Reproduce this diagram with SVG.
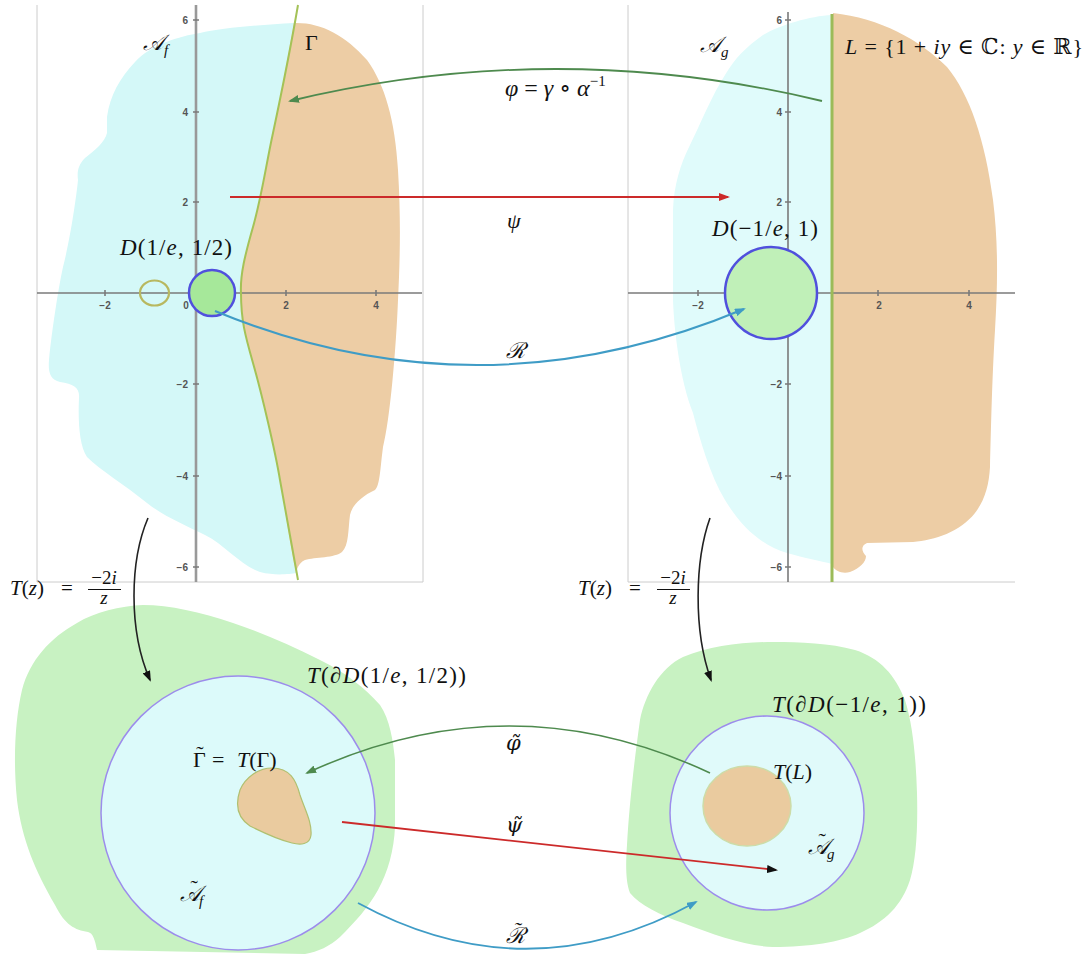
<svg xmlns="http://www.w3.org/2000/svg" width="1091" height="957" viewBox="0 0 1091 957">
<style>
.frame{stroke:#cccccc;stroke-width:1;fill:none}
.axis{stroke:#7a7a7a;stroke-width:1.6;fill:none}
.yaxisL{stroke:#999999;stroke-width:2.6;fill:none}
.tick{font-family:"Liberation Sans","DejaVu Sans",sans-serif;font-size:10px;font-weight:bold;fill:#555555}
.cyan{fill:#d4f8f8}
.cyan2{fill:#e0fbfb}
.orange{fill:#edcda5}
.m{font-family:"Liberation Serif","DejaVu Serif",serif;font-size:22px;fill:#111111}
.dv{font-family:"DejaVu Serif",serif;font-size:21px;fill:#111111}
.big{font-size:23px}
.i{font-style:italic}
.sub{font-size:15px}
.conn{fill:none}
</style>
<defs>
<marker id="ahG" markerUnits="userSpaceOnUse" markerWidth="11" markerHeight="8" refX="9" refY="4" orient="auto"><path d="M0,0 L11,4 L0,8 Z" fill="#4e8a4e"/></marker>
<marker id="ahR" markerUnits="userSpaceOnUse" markerWidth="11" markerHeight="8" refX="9" refY="4" orient="auto"><path d="M0,0 L11,4 L0,8 Z" fill="#cc2a2a"/></marker>
<marker id="ahB" markerUnits="userSpaceOnUse" markerWidth="11" markerHeight="8" refX="9" refY="4" orient="auto"><path d="M0,0 L11,4 L0,8 Z" fill="#3f9cc6"/></marker>
<marker id="ahK" markerUnits="userSpaceOnUse" markerWidth="11" markerHeight="8" refX="9" refY="4" orient="auto"><path d="M0,0 L11,4 L0,8 Z" fill="#111111"/></marker>
</defs>

<g id="panel-top-left">
<path class="cyan" d="M294,23 C260,25 220,28 200,33 C180,36 150,45 135,62 C120,78 110,95 107,117 L107,133 C105,142 95,150 85,158 C78,165 77,172 78,180 C76,200 70,240 63,267 C58,290 52,330 49,360 C48,372 50,380 60,382 C74,384 80,388 79,398 C78,420 79,445 87,457 C100,470 125,485 147,503 C165,517 185,525 205,535 C225,545 240,565 260,572 C275,576 290,574 296,573 C290,545 286,515 280,480 C275,450 262,395 253,363 C245,335 241,320 241,293 C240,275 245,255 253,227 C262,195 266,165 273,133 C280,100 290,45 294,23 Z"/>
<path class="orange" d="M294,23 C320,22 345,35 367,60 C385,85 395,120 398,170 C401,220 400,260 398,300 C396,350 390,420 383,447 C380,470 380,485 375,490 C362,496 352,505 350,515 C348,530 349,545 342,552 C335,558 315,557 305,560 C298,563 297,570 296,573 C290,545 286,515 280,480 C275,450 262,395 253,363 C245,335 241,320 241,293 C240,275 245,255 253,227 C262,195 266,165 273,133 C280,100 290,45 294,23 Z"/>
<path class="frame" d="M37,5 L37,582 L423,582 M423,5 L423,582"/>
<path class="axis" d="M37,293 L422,293"/>
<path class="yaxisL" d="M196,5 L196,582"/>
<path class="axis" d="M105,290 V296 M286,290 V296 M376,290 V296 M193,20 H199 M193,112 H199 M193,202 H199 M193,384 H199 M193,476 H199 M193,567 H199" stroke-width="1"/>
<g class="tick">
<text x="188" y="24" text-anchor="end">6</text>
<text x="188" y="116" text-anchor="end">4</text>
<text x="188" y="206" text-anchor="end">2</text>
<text x="188" y="388" text-anchor="end">−2</text>
<text x="188" y="480" text-anchor="end">−4</text>
<text x="188" y="571" text-anchor="end">−6</text>
<text x="105" y="309" text-anchor="middle">−2</text>
<text x="186" y="309" text-anchor="middle">0</text>
<text x="286" y="309" text-anchor="middle">2</text>
<text x="376" y="309" text-anchor="middle">4</text>
</g>
<path id="gamma" d="M298,5 C292,40 280,100 273,133 C266,165 262,195 253,227 C245,255 240,275 241,293 C241,320 245,335 253,363 C262,395 275,450 280,480 C286,515 292,545 298,580" fill="none" stroke="#a4c257" stroke-width="2"/>
<ellipse cx="154.5" cy="293" rx="14.5" ry="12.5" fill="none" stroke="#b8b860" stroke-width="2.2"/>
<circle cx="212" cy="293" r="23" fill="#a6e89a" stroke="#5050dd" stroke-width="2.5"/>
<text class="m" x="143" y="50"><tspan class="i">𝒜</tspan><tspan class="i sub" dy="5">f</tspan></text>
<text class="m" x="305" y="50">Γ</text>
<text class="m big" x="120" y="255" textLength="112"><tspan class="i">D</tspan>(1/<tspan class="i">e</tspan>, 1/2)</text>
</g>

<g id="panel-top-right">
<path class="cyan2" d="M832,15 C810,16 780,25 763,35 C745,48 735,58 725,75 C712,95 700,125 690,145 C680,165 674,185 673,210 L673,300 C674,330 680,380 693,413 C700,440 710,475 725,500 C740,525 760,545 787,553 C805,558 820,561 832,564 Z"/>
<path class="orange" d="M833,13 C880,18 920,40 947,67 C970,95 985,140 993,200 C998,240 998,280 995,330 C992,380 991,430 990,467 C989,485 985,500 975,513 C960,532 935,540 913,542 L867,543 C860,546 862,552 866,556 C866,562 860,568 850,572 C842,574 836,571 833,567 Z"/>
<path class="frame" d="M628,5 L628,582 L1015,582"/>
<path class="axis" d="M628,293 L1015,293"/>
<path class="axis" d="M788,12 L788,582" stroke-width="1.4"/>
<path class="axis" d="M698,290 V296 M878,290 V296 M969,290 V296 M785,20 H791 M785,112 H791 M785,202 H791 M785,384 H791 M785,476 H791 M785,567 H791" stroke-width="1"/>
<g class="tick">
<text x="782" y="24" text-anchor="end">6</text>
<text x="782" y="116" text-anchor="end">4</text>
<text x="782" y="206" text-anchor="end">2</text>
<text x="782" y="388" text-anchor="end">−2</text>
<text x="782" y="480" text-anchor="end">−4</text>
<text x="782" y="571" text-anchor="end">−6</text>
<text x="698" y="309" text-anchor="middle">−2</text>
<text x="778" y="309" text-anchor="middle">0</text>
<text x="879" y="309" text-anchor="middle">2</text>
<text x="969" y="309" text-anchor="middle">4</text>
</g>
<path d="M832,14 L832,582" stroke="#9bbb59" stroke-width="3"/>
<circle cx="771" cy="293" r="46" fill="#c0f0b8" stroke="#5050dd" stroke-width="2.5"/>
<text class="m" x="700" y="52"><tspan class="i">𝒜</tspan><tspan class="i sub" dy="5">g</tspan></text>
<text class="m" x="845" y="54" textLength="238"><tspan class="i">L</tspan> = {1 + <tspan class="i">iy</tspan> ∈ ℂ: <tspan class="i">y</tspan> ∈ ℝ}</text>
<text class="m big" x="712" y="236" textLength="106"><tspan class="i">D</tspan>(−1/<tspan class="i">e</tspan>, 1)</text>
</g>

<g id="panel-bottom-left">
<path fill="#c8f2c2" d="M77,623 C95,612 120,606 143,605 C170,605 200,612 233,623 C260,632 290,645 320,660 C345,672 365,688 380,705 C390,720 393,740 395,760 L395,827 C394,850 388,872 378,890 C368,908 355,922 340,937 C330,946 318,952 305,954 L97,950 C95,940 93,933 88,932 C75,930 65,925 55,905 C35,870 22,840 17,800 C13,760 15,720 22,690 C30,660 50,638 77,623 Z"/>
<circle cx="238" cy="813" r="137" fill="#dcfafa" stroke="#9c8cec" stroke-width="1.5"/>
<path d="M240,790 C245,778 258,768 272,768 C290,768 296,780 300,795 C305,810 312,822 311,835 C310,845 300,845 292,843 C280,840 262,832 250,826 C238,818 235,805 240,790 Z" fill="#eacb9f" stroke="#b0c070" stroke-width="1.2"/>
<text class="m" x="193" y="767">Γ<tspan x="196.3" y="761">˜</tspan><tspan x="212" y="767">=</tspan><tspan x="237" y="767" class="i">T</tspan>(Γ)</text>
<text class="m big" x="307" y="683" textLength="159"><tspan class="i">T</tspan>(∂<tspan class="i">D</tspan>(1/<tspan class="i">e</tspan>, 1/2))</text>
<text class="m" x="180" y="901"><tspan class="i">𝒜</tspan><tspan x="190.5" y="895">˜</tspan><tspan class="i sub" x="199" y="906">f</tspan></text>
</g>

<g id="panel-bottom-right">
<path fill="#c8f2c2" d="M683,657 C710,646 740,642 773,642 C800,642 830,643 855,650 C880,658 895,675 905,700 C913,725 916,760 917,793 C918,830 916,860 910,880 C902,905 885,922 860,933 C840,942 810,947 773,947 C745,946 715,935 683,923 C660,915 640,905 630,893 C625,880 626,860 627,845 C629,810 633,770 640,720 C645,695 660,668 683,657 Z"/>
<circle cx="767" cy="813" r="97" fill="#e0fafa" stroke="#9c8cec" stroke-width="1.5"/>
<ellipse cx="747" cy="806" rx="44" ry="40" fill="#eacb9f" stroke="#cddca8" stroke-width="1.5"/>
<text class="m big" x="772" y="712" textLength="154"><tspan class="i">T</tspan>(∂<tspan class="i">D</tspan>(−1/<tspan class="i">e</tspan>, 1))</text>
<text class="m" x="773" y="779"><tspan class="i">T</tspan>(<tspan class="i">L</tspan>)</text>
<text class="m" x="808" y="854"><tspan class="i">𝒜</tspan><tspan x="818.5" y="848">˜</tspan><tspan class="i sub" x="827" y="859">g</tspan></text>
</g>

<g id="connectors" class="conn">
<path d="M822,101 Q556,37 290,101" stroke="#4e8a4e" stroke-width="1.8" marker-end="url(#ahG)"/>
<path d="M230,197 L728,197" stroke="#cc2a2a" stroke-width="2" marker-end="url(#ahR)"/>
<path d="M215,311 Q479,420 744,309" stroke="#3f9cc6" stroke-width="2" marker-end="url(#ahB)"/>
<path d="M148,518 C130,560 128,630 150,680" stroke="#222222" stroke-width="1.6" marker-end="url(#ahK)"/>
<path d="M710,518 C695,560 693,630 711,680" stroke="#222222" stroke-width="1.6" marker-end="url(#ahK)"/>
<path d="M710,773 Q510,679 307,773" stroke="#4e8a4e" stroke-width="1.6" marker-end="url(#ahG)"/>
<path d="M342,822 L776,870" stroke="#cc2a2a" stroke-width="1.8" marker-end="url(#ahK)"/>
<path d="M358,903 Q527,995 696,902" stroke="#3f9cc6" stroke-width="1.8" marker-end="url(#ahB)"/>
</g>

<g id="connector-labels">
<text class="m" x="505" y="96" style="font-size:24px"><tspan class="i">φ</tspan> = <tspan class="i">γ</tspan> ∘ <tspan class="i">α</tspan><tspan style="font-size:15px" dy="-10">−1</tspan></text>
<text class="m i" x="507" y="228">ψ</text>
<text class="m i" x="506" y="358">ℛ</text>
<text class="dv i" x="506" y="750">φ̃</text>
<text class="dv i" x="506" y="832">ψ̃</text>
<text class="m i" x="506" y="943">ℛ<tspan x="513.5" y="937">˜</tspan></text>
<text class="m" x="10" y="595" style="font-size:21px"><tspan class="i">T</tspan>(<tspan class="i">z</tspan>)<tspan x="61">=</tspan></text>
<text class="m" x="104" y="584" style="font-size:19px" text-anchor="middle">−2<tspan class="i">i</tspan></text>
<path d="M88,589.5 L121,589.5" stroke="#111111" stroke-width="1"/>
<text class="m i" x="104" y="604" style="font-size:19px" text-anchor="middle">z</text>
<text class="m" x="578" y="595" style="font-size:21px"><tspan class="i">T</tspan>(<tspan class="i">z</tspan>)<tspan x="629">=</tspan></text>
<text class="m" x="673" y="584" style="font-size:19px" text-anchor="middle">−2<tspan class="i">i</tspan></text>
<path d="M657,589.5 L690,589.5" stroke="#111111" stroke-width="1"/>
<text class="m i" x="673" y="604" style="font-size:19px" text-anchor="middle">z</text>
</g>
</svg>
